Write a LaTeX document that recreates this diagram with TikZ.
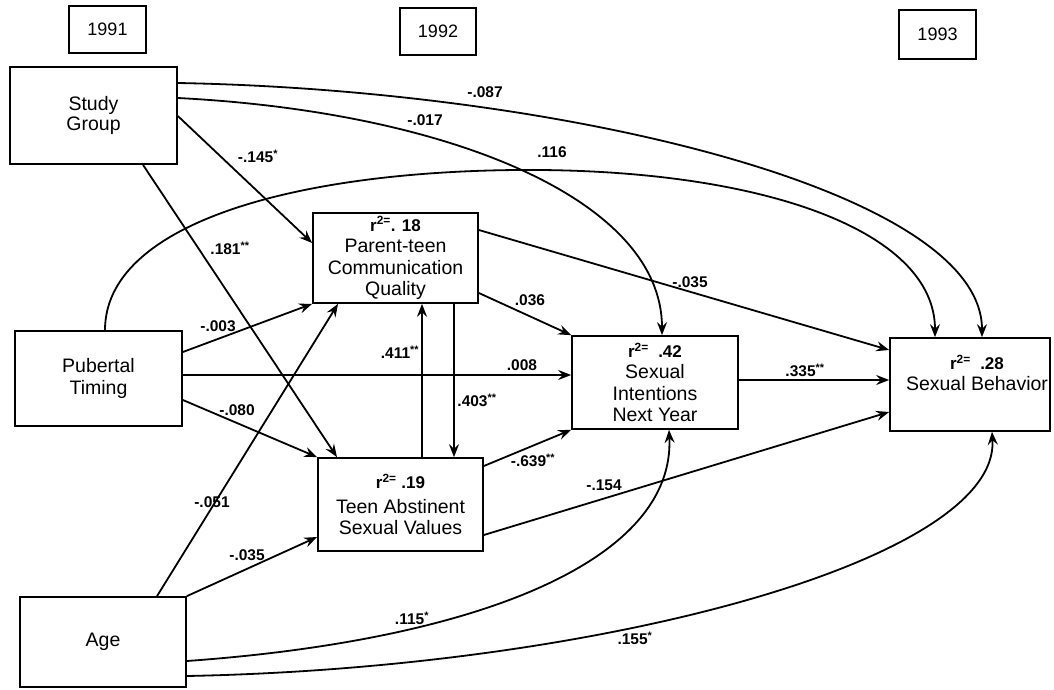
\documentclass[tikz,border=0pt]{standalone}
\usepackage{fontspec}
\setmainfont{Liberation Sans}
\usetikzlibrary{arrows.meta}
\tikzset{
  box/.style={draw, line width=1.7pt, inner sep=0pt, align=center, font=\fontsize{19.5}{21.5}\selectfont},
  yearbox/.style={draw, line width=1.5pt, inner sep=0pt, font=\fontsize{18}{20}\selectfont},
  conn/.style={line width=1.8pt, -{Stealth[length=13pt,width=10pt,inset=4.5pt]}},
  coef/.style={font=\bfseries\fontsize{15.5}{15.5}\selectfont, inner sep=1pt}
}
\newcommand{\rsqr}[1]{{\bfseries\fontsize{17}{19}\selectfont r\textsuperscript{2=}#1}}
\begin{document}
\begin{tikzpicture}[x=1pt,y=-1pt]
\useasboundingbox (0,0) rectangle (1054,690);
% year boxes
\node[yearbox, minimum width=77pt, minimum height=47pt] (y91) at (107.5,29.5) {1991};
\node[yearbox, minimum width=76pt, minimum height=47pt] (y92) at (438,31.5) {1992};
\node[yearbox, minimum width=77pt, minimum height=49pt] (y93) at (937.5,34.5) {1993};
% variable boxes
\node[box, minimum width=167pt, minimum height=97pt] (sg) at (93.5,115.5) {\raisebox{-5pt}{\shortstack{Study\\Group}}};
\node[box, minimum width=167pt, minimum height=95pt] (pt) at (98.5,378.5) {Pubertal\\Timing};
\node[box, minimum width=166pt, minimum height=90pt] (age) at (103,642) {\raisebox{-5pt}{Age}};
\node[box, minimum width=165pt, minimum height=90pt] (ptc) at (395.5,258) {\rsqr{. 18}\\Parent-teen\\Communication\\Quality};
\node[box, minimum width=165pt, minimum height=93pt] (tav) at (400.5,504.5) {\rsqr{ .19}\\[3pt]Teen Abstinent\\Sexual Values};
\node[box, minimum width=166pt, minimum height=93pt] (si) at (655,382.5) {\rsqr{\ \ .42}\\Sexual\\Intentions\\Next Year};
\node[box, minimum width=160pt, minimum height=93pt] (sb) at (970,384.5) {};
\node[box, draw=none] (sbtext) at (977,373) {\rsqr{\ \ .28}\\Sexual Behavior};
% curved paths from the top
\draw[conn] (sg.east |- 0,83) .. controls (560,90) and (982,190) .. (sb.north -| 982,0);
\draw[conn] (sg.east |- 0,98) .. controls (450,112) and (662,200) .. (si.north -| 662,0);
\draw[conn] (pt.north -| 105,0) .. controls (105,225) and (290,172) .. (517,170) .. controls (760,168) and (935,230) .. (sb.north -| 935,0);
% straight paths
\draw[conn] (sg.east |- 0,116) -- (ptc.west |- 0,243);
\draw[conn] (sg.south -| 143,0) -- (tav.north -| 337,0);
\draw[conn] (pt.east |- 0,352) -- (ptc.south west);
\draw[conn] (pt.east |- 0,375) -- (si.west |- 0,375);
\draw[conn] (pt.east |- 0,400) -- (tav.north west);
\draw[conn] (age.north -| 157,0) -- (ptc.south -| 338,0);
\draw[conn] (age.north east) -- (tav.west |- 0,537);
\draw[conn] (ptc.east |- 0,293) -- (si.north west);
\draw[conn] (ptc.east |- 0,230) -- (sb.west |- 0,350);
\draw[conn] (tav.north -| 422,0) -- (ptc.south -| 422,0);
\draw[conn] (ptc.south -| 454,0) -- (tav.north -| 454,0);
\draw[conn] (tav.east |- 0,466) -- (si.south west);
\draw[conn] (tav.east |- 0,535) -- (sb.west |- 0,412);
\draw[conn] (si.east |- 0,380) -- (sb.west |- 0,380);
% curved paths from Age
\draw[conn] (age.east |- 0,661) .. controls (480,640) and (675,560) .. (si.south -| 669,0);
\draw[conn] (age.east |- 0,676) .. controls (600,668) and (1000,560) .. (sb.south -| 992,0);
% coefficients
\node[coef] (c1) at (485,92) {-.087};
\node[coef] (c2) at (425,120) {-.017};
\node[coef] (c3) at (552,152) {.116};
\node[coef] (c4) at (258,156) {-.145\textsuperscript{*}};
\node[coef] (c5) at (230,248) {.181\textsuperscript{**}};
\node[coef] (c6) at (218,326) {-.003};
\node[coef] (c7) at (522,365) {.008};
\node[coef] (c8) at (237,410) {-.080};
\node[coef] (c9) at (212,502) {-.051};
\node[coef] (c10) at (247,555) {-.035};
\node[coef] (c11) at (412,618) {.115\textsuperscript{*}};
\node[coef] (c12) at (635,638) {.155\textsuperscript{*}};
\node[coef] (c13) at (530,300) {.036};
\node[coef] (c14) at (690,282) {-.035};
\node[coef] (c15) at (805,370) {.335\textsuperscript{**}};
\node[coef] (c16) at (400,352) {.411\textsuperscript{**}};
\node[coef] (c17) at (477,400) {.403\textsuperscript{**}};
\node[coef] (c18) at (533,460) {-.639\textsuperscript{**}};
\node[coef] (c19) at (604,485) {-.154};
\end{tikzpicture}
\end{document}
